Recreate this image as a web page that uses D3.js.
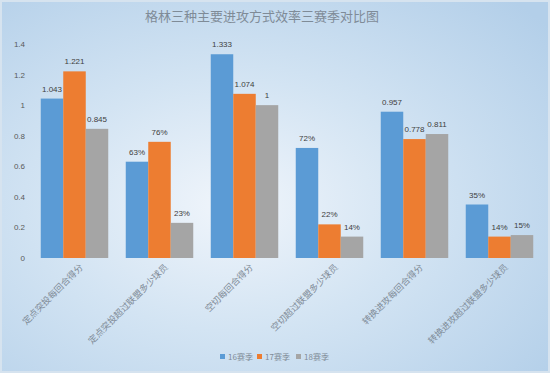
<!DOCTYPE html>
<html>
<head>
<meta charset="utf-8">
<script src="https://cdn.jsdelivr.net/npm/d3@7"></script>
<style>
  body { margin: 0; }
  svg { display: block; font-family: "Noto Sans CJK SC", "Noto Sans", sans-serif; }
</style>
</head>
<body>
<svg id="chart"></svg>
<script>
const width = 550, height = 373;

const categories = ["定点突投每回合得分", "定点突投超过联盟多少球员", "空切每回合得分",
                    "空切超过联盟多少球员", "转换进攻每回合得分", "转换进攻超过联盟多少球员"];
const isPercent = [false, true, false, true, false, true];
const seasons = ["16赛季", "17赛季", "18赛季"];
const s16 = [1.043, 0.63, 1.333, 0.72, 0.957, 0.35];
const s17 = [1.221, 0.76, 1.074, 0.22, 0.778, 0.14];
const s18 = [0.845, 0.23, 1, 0.14, 0.811, 0.15];
const yTicks = [0, 0.2, 0.4, 0.6, 0.8, 1, 1.2, 1.4];

const colors = ["#5b9bd5", "#ed7d31", "#a5a5a5"];
const series = [s16, s17, s18];

let svg = d3.select("#chart")
    .attr("width", width)
    .attr("height", height);

// background
let defs = svg.append("defs");
let grad = defs.append("radialGradient")
    .attr("id", "bg")
    .attr("cx", "0.42").attr("cy", "0.55").attr("r", "0.75");
grad.append("stop").attr("offset", "0%").attr("stop-color", "#f0f5fb");
grad.append("stop").attr("offset", "45%").attr("stop-color", "#d3e4f3");
grad.append("stop").attr("offset", "100%").attr("stop-color", "#b3cfe9");

svg.append("rect")
    .attr("width", width).attr("height", height)
    .attr("fill", "url(#bg)");
svg.append("rect")
    .attr("x", 0.5).attr("y", 0.5)
    .attr("width", width - 1).attr("height", height - 1)
    .attr("fill", "none")
    .attr("stroke", "#d6e3ef")
    .attr("stroke-width", 3);

// scales
let x0 = d3.scaleBand().domain(categories).range([32, 542])
    .paddingInner(0.206).paddingOuter(0.103);
let x1 = d3.scaleBand().domain(d3.range(3)).range([0, x0.bandwidth()]);
let y = d3.scaleLinear().domain([0, 1.4]).range([258, 44]);

// title
svg.append("text")
    .attr("x", 262).attr("y", 21)
    .attr("text-anchor", "middle")
    .attr("font-size", 13)
    .attr("fill", "#7f8b97")
    .text("格林三种主要进攻方式效率三赛季对比图");

// y axis
let yAxis = svg.append("g")
    .attr("transform", "translate(25,0)")
    .call(d3.axisLeft(y).tickValues(yTicks).tickSize(0).tickPadding(0).tickFormat(d3.format("~g")));
yAxis.select(".domain").remove();
yAxis.selectAll("text")
    .attr("font-size", 8)
    .attr("fill", "#595959")
    .style("font-family", "Liberation Sans, Arial, sans-serif");

// bars
let groups = svg.append("g").selectAll("g")
    .data(categories)
    .join("g")
    .attr("transform", d => `translate(${x0(d)},0)`);

groups.each(function(cat, ci) {
    let g = d3.select(this);
    series.forEach((s, si) => {
        let v = s[ci];
        g.append("rect")
            .attr("x", x1(si))
            .attr("y", y(v))
            .attr("width", x1.bandwidth())
            .attr("height", y(0) - y(v))
            .attr("fill", colors[si]);
        g.append("text")
            .attr("x", x1(si) + x1.bandwidth() / 2)
            .attr("y", y(v) - 7)
            .attr("text-anchor", "middle")
            .attr("font-size", 8)
            .attr("fill", "#404040")
            .style("font-family", "Liberation Sans, Arial, sans-serif")
            .text(isPercent[ci] ? Math.round(v * 100) + "%" : String(v));
    });
});

// x labels
svg.append("g").selectAll("text")
    .data(categories)
    .join("text")
    .attr("transform", d => `translate(${x0(d) + x0.bandwidth() / 2 + 9},${268}) rotate(-45)`)
    .attr("text-anchor", "end")
    .attr("font-size", 9)
    .attr("fill", "#7f8b97")
    .text(d => d);

// legend
let legendX = [220, 257, 296];
let legend = svg.append("g").selectAll("g")
    .data(seasons)
    .join("g")
    .attr("transform", (d, i) => `translate(${legendX[i]},357)`);
legend.append("rect")
    .attr("x", 0).attr("y", -3)
    .attr("width", 5).attr("height", 5)
    .attr("fill", (d, i) => colors[i]);
legend.append("text")
    .attr("x", 8).attr("y", 3)
    .attr("font-size", 8)
    .attr("fill", "#7f8b97")
    .text(d => d);
</script>
</body>
</html>
